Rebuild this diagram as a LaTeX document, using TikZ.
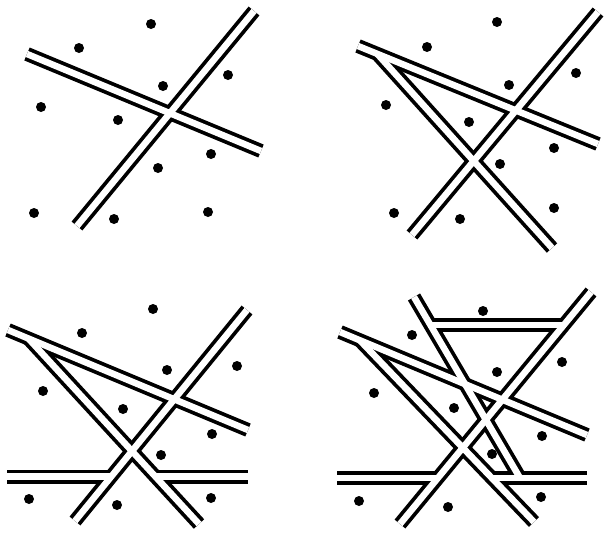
\documentclass[tikz,border=0pt]{standalone}
\usetikzlibrary{calc}
\begin{document}
\begin{tikzpicture}[x=1pt,y=-1pt,
  roadout/.style={line width=14pt, black, line cap=butt},
  roadin/.style={line width=6.5pt, white, line cap=butt},
  dot/.style={circle, fill=black, inner sep=0pt, minimum size=10pt}]
\useasboundingbox (0,0) rectangle (605,533);
% panel 1
\coordinate (a1s) at (27,54);   \coordinate (a1e) at (261,151);
\coordinate (b1s) at (77,226);  \coordinate (b1e) at (254,11);
% panel 2
\coordinate (a2s) at (358,46);  \coordinate (a2e) at (598,144);
\coordinate (b2s) at (412,235); \coordinate (b2e) at (598,12);
\coordinate (c2s) at ($(a2s)!0.08!(a2e)$); \coordinate (c2e) at (552,248);
% panel 3
\coordinate (a3s) at (8,330);   \coordinate (a3e) at (248,430);
\coordinate (b3s) at (75,521);  \coordinate (b3e) at (247,310);
\coordinate (c3s) at ($(a3s)!0.085!(a3e)$); \coordinate (c3e) at (199,524);
\coordinate (d3s) at (7,476.5);   \coordinate (d3b) at (111.3,476.5);
\coordinate (d3c) at (155.3,476.5); \coordinate (d3e) at (248,476.5);
% panel 4
\coordinate (a4s) at (340,332); \coordinate (a4e) at (587,435);
\coordinate (b4s) at (400,524); \coordinate (b4e) at (591,292);
\coordinate (c4s) at ($(a4s)!0.08!(a4e)$); \coordinate (c4e) at (534,522);
\coordinate (d4s) at (337,478);   \coordinate (d4b) at (437.9,478);
\coordinate (d4c) at (491.8,478); \coordinate (d4e) at (587,478);
\coordinate (e4s) at (414,297); \coordinate (e4e) at (520,478);
\coordinate (f4s) at (430.4,325); \coordinate (f4e) at (564.5,325);

\def\roadlist{a1s/a1e,b1s/b1e,a2s/a2e,b2s/b2e,c2s/c2e,a3s/a3e,b3s/b3e,c3s/c3e,d3s/d3b,d3c/d3e,a4s/a4e,b4s/b4e,c4s/c4e,d4s/d4b,d4c/d4e,e4s/e4e,f4s/f4e}
\foreach \s/\e in \roadlist
  \draw[roadout] (\s) -- (\e);
\foreach \s/\e in \roadlist
  \draw[roadin] (\s) -- (\e);

% dots
\foreach \x/\y [count=\i] in {151/24,79/48,228/75,163/86,41/107,118/120,211/154,158/168,34/213,114/219,208/212,
  497/22,427/47,576/73,509/85,386/105,469/122,554/148,500/164,394/213,460/219,554/208,
  153/309,82/333,237/366,167/370,43/391,123/409,212/434,161/455,29/499,117/505,211/498,
  483/311,412/335,562/362,497/372,374/393,454/408,542/436,492/454,359/501,448/507,541/497}
  \node[dot] (p\i) at (\x,\y) {};
\end{tikzpicture}
\end{document}
